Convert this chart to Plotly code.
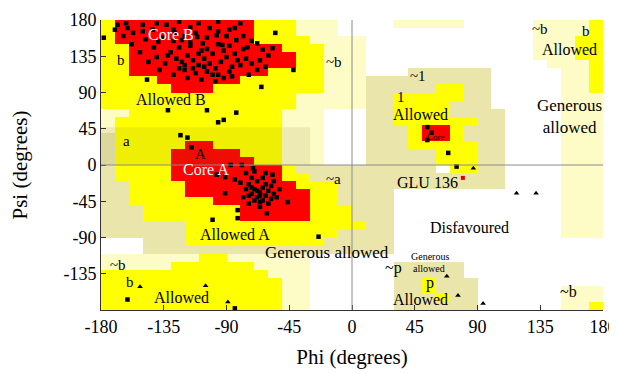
import plotly.graph_objects as go

# ---------------- data ----------------
# region map, 10-degree cells; rows psi 180->-180, cols phi -180->180
# codes: . disfavoured, P generous (pale), K generous (khaki), Y allowed, R core
region_rows = [
    "YRRRRRRRRR RYYYPPP... .PPPPP.... .PPPPY",
    "YRRRRRRRRR RYYYPPP... .......... .PPPPY",
    "YRRRRRRRRR RYYYYPPPP. .......... .PPPYY",
    "YYRRRRRRRR RRRYYYPPP. .......... .PPPYY",
    "YYRRRRRRRR RRRRYYPPP. .......... .PPPYY",
    "YYRRRRRRRR RRRRYYPPP. .......... ..PPPY",
    "YYRRRRRRRR RRYYYYPPP. ..KKKKKK.. ...PPY",
    "YYYYRRRRRR YYYYYYPPPK KKKKKKKK.. ...PPY",
    "YYYYYRRRYY YYYYYYPPPK KKKKYYKK.. ...PPY",
    "YYYYYYYYYY YYYYPPPPPK KYYYYYKK.. ...PPP",
    "YYYYYYYYYY YYYYPPPPPK KYYYYKKK.. ...PPP",
    "PPYYYYYYYY YYYPPP...K KYYYYKKKK. ...PPP",
    "PYYYYYYYYY YYYPPP...K KYYYYYYKK. ...PPP",
    "PYYYYYYYYY YYYPPP...K KKYRRYKKK. ...PPP",
    "KYYYYYYYYY YYYPPP...K KKYRRYKKK. ...PPP",
    "KYYYYYRRYY YYYPPP...K KKYYYYYKK. ...PPP",
    "KYYYYRRRRR YYYPPP...K KKKKYYYKK. ...PPP",
    "KYYYYRRRRR RYYPPP...K KKKKYYYKK. ...PPP",
    "KYYYYRRRRR RRRYKKKKKK KKKK.YYKK. ...PPP",
    "KYYYYRRRRR RRRYYKKKKK KKKKKKKKK. ...PPP",
    "KKYYYYRRRR RRRRYYYKKK KKKKKKKKK. ...PPP",
    "KKYYYYRRRR RRRRRYYKKK K......... ...PPP",
    "KKYYYYYYRR RRRRRYYKKK K......... ...PPP",
    "KKKYYYYYYY RRRRRYYYKK K......... ...PPP",
    "KKKYYYYYYY RRRRRYYYKK K......... ...PPP",
    "KKKKKKYYYY YYYYYYYYYK K......... ...PPP",
    "KKKKKKYYYY YYYYYYYKKK K......... ...PPP",
    "...KKKYYYY YYYYYYKKKK K......... ......",
    "...KKKKKKK KKKKKKKKKK K......... ......",
    "PPPPPPPYYP PPPPP..... .......... ......",
    "PPPPPYYYYY YPPPP..... .KKKKK.... ......",
    "YYYYYYYYYY YYPPP..... .KKKKK.... ......",
    "YYYYYYYYYY YYYPP..... .KKYKKK... ......",
    "YYYYYYYYYY YYYPP..... .KKYKKK... ...PPP",
    "YYYYYYYYYY YYYPP..... .KKKYKK... ...PPP",
    "YYYYYYYYYY YYYPP..... .KKKKKK... ...PPY",
]

# residues (non-glycine): phi, psi
res_phi = [
    -178, -168, -161, -157, -150, -143, -139, -133, -127, -122, -116, -111, -107, -102, -97, -93,
    -88, -83, -75, -68, -64, -57, -55, -42, -65, -147, -132, -104, -83, -96, -92, -123, -118, -115,
    -130, -126, -122, -118, -114, -110, -106, -102, -98, -94, -90, -86, -120, -112, -104, -96, -88,
    -80, -76, -72, -68, -124, -116, -108, -100, -92, -84, -78, -134, -140, -146, -138, -128, -118,
    -108, -98, -120, -114, -110, -104, -96, -88, -82, -74, -66, -62, -60, -152, -158, -164, -148,
    -142, -136, -128, -120, -112, -104, -96, -90, -84, -78, -72, -140, -124, -110, -96, -80, -150,
    -162, -170, -128, -116, -100, -92, -86, -106, -124, -132,
    -70, -66, -62, -68, -64, -72, -60, -58, -74, -70, -66, -62, -76, -56, -60, -68, -72, -64, -78,
    -74, -66, -58, -54, -80, -84, -76, -62, -70, -56, -52, -66, -72, -64, -68, -74,
    -87, -79, -71, -97, -91, -57, -91, -46, -82, -61, -100, -82, -24,
    -161, -84, 54, 54, 57, 69, 75,
]
res_psi = [
    158, 174, 170, 164, 174, 168, 153, 174, 164, 155, 171, 159, 151, 170, 161, 149,
    168, 155, 146, 151, 143, 145, 164, 118, 97, 106, 68, 68, 65, 53, 56, 37, 34, 22,
    140, 132, 128, 136, 130, 124, 132, 126, 120, 128, 134, 122, 118, 114, 116, 112, 116,
    124, 132, 126, 118, 146, 148, 142, 138, 142, 138, 144, 126, 134, 128, 118, 112, 108,
    106, 104, 124, 120, 138, 144, 150, 148, 130, 112, 130, 122, 136, 140, 150, 160, 156,
    146, 158, 154, 160, 164, 158, 166, 160, 170, 160, 154, 176, 178, 176, 178, 176, 166,
    176, 168, 168, 152, 112, 108, 110, 122, 120, 136,
    -30, -34, -38, -40, -28, -36, -32, -42, -24, -44, -46, -24, -30, -36, -48, -20, -16, -16, -40,
    -48, -52, -26, -40, -22, -18, -10, -10, -8, -20, -30, -38, -28, -44, -32, -38,
    0, 0, -4, -12, -15, -12, -35, -46, -56, -60, -68, -66, -89,
    -167, -178, 47, 31, 40, 15, -2,
]

# glycines: phi, psi
gly_phi = [-152, -105, -89, 87, 118, 132, 68, 76, 94]
gly_psi = [-151, -150, -170, -4, -35, -35, -138, -162, -172]

# highlighted residue GLU 136
glu_phi = [79.5]
glu_psi = [-16]

# region labels
lab_text = ["Core B", "b", "Allowed B", "a", "A", "Core A", "~b", "~a", "Allowed A",
            "Generous allowed", "~b", "b", "Allowed", "~1", "1", "Allowed", "Core",
            "GLU 136", "Disfavoured", "Generous", "allowed", "~p", "p", "Allowed",
            "~b", "b", "Allowed", "Generous<br>allowed", "~b"]
lab_phi = [-130, -166, -130, -162, -109, -105, -13, -13, -84,
           -18, -168, -159, -122, 47, 35, 49, 60,
           54, 84, 56, 55, 30, 56, 49,
           135, 168, 156, 156, 155]
lab_psi = [162, 130, 81, 30, 14, -6, 128, -17, -86,
           -109, -124, -145, -165, 110, 85, 63, 35,
           -22, -77, -113, -129, -128, -146, -167,
           169, 166, 143, 60, -157]
lab_color = ["white", "black", "black", "black", "black", "white", "black", "black", "black",
             "black", "black", "black", "black", "black", "black", "black", "black",
             "black", "black", "black", "black", "black", "black", "black",
             "black", "black", "black", "black", "black"]
lab_size = [16, 15, 16, 15, 15, 16, 15, 15, 16,
            17, 15, 15, 16, 15, 15, 16, 9,
            16, 16, 10, 10, 16, 16, 16,
            15, 15, 16, 17, 16]

x_ticks = [-180, -135, -90, -45, 0, 45, 90, 135, 180]
y_ticks = [180, 135, 90, 45, 0, -45, -90, -135]

# ---------------- figure ----------------
code = {".": 0, "P": 1, "K": 2, "Y": 3, "R": 4}
cols = ["#ffffff", "#fdfbc6", "#eae6ab", "#ffff00", "#ff0000"]
cs = []
for i, c in enumerate(cols):
    cs.append([i / 5, c])
    cs.append([(i + 1) / 5, c])

z = []
for r in region_rows:
    s = r.replace(" ", "")
    s = (s + "." * 36)[:36]
    z.append([code[ch] for ch in s])

phi_c = [-175 + 10 * i for i in range(36)]
psi_c = [175 - 10 * j for j in range(36)]

serif = "Liberation Serif"

fig = go.Figure()
fig.add_trace(go.Heatmap(x=phi_c, y=psi_c, z=z, colorscale=cs, zmin=-0.5, zmax=4.5,
                         showscale=False, hoverinfo="skip"))
# darker band across the alpha-region top
fig.add_trace(go.Scatter(x=[-180, -30, -30, -180, -180], y=[0, 0, 47, 47, 0], fill="toself",
                         fillcolor="rgba(110,110,30,0.11)", line=dict(width=0), mode="lines",
                         hoverinfo="skip", showlegend=False))

fig.add_shape(type="line", x0=0, x1=0, y0=-180, y1=180, line=dict(color="#8a8a8a", width=1))
fig.add_shape(type="line", x0=-180, x1=180, y0=0, y1=0, line=dict(color="#8a8a8a", width=1))

fig.add_trace(go.Scatter(x=res_phi, y=res_psi, mode="markers",
                         marker=dict(symbol="square", size=4.5, color="black"), showlegend=False))
fig.add_trace(go.Scatter(x=gly_phi, y=gly_psi, mode="markers",
                         marker=dict(symbol="triangle-up", size=5, color="black"), showlegend=False))
fig.add_trace(go.Scatter(x=glu_phi, y=glu_psi, mode="markers",
                         marker=dict(symbol="square", size=4, color="#e00000"), showlegend=False))

for t, x, y, c, s in zip(lab_text, lab_phi, lab_psi, lab_color, lab_size):
    fig.add_annotation(x=x, y=y, text=t, showarrow=False,
                       font=dict(family=serif, size=s, color=c))

fig.update_xaxes(range=[-180, 180], tickvals=x_ticks, ticktext=[str(v) for v in x_ticks],
                 ticks="inside", ticklen=5, tickcolor="#333", showline=True, linecolor="#333",
                 showgrid=False, zeroline=False, automargin=False,
                 tickfont=dict(family=serif, size=18, color="black"),
                 title=dict(text="Phi (degrees)", font=dict(family=serif, size=21, color="black"),
                            standoff=13))
fig.update_yaxes(range=[-180, 180], tickvals=y_ticks, ticktext=[str(v) for v in y_ticks],
                 ticks="inside", ticklen=5, tickcolor="#333", showline=True, linecolor="#333",
                 showgrid=False, zeroline=False, automargin=False,
                 tickfont=dict(family=serif, size=18, color="black"),
                 title=dict(text="Psi (degrees)", font=dict(family=serif, size=21, color="black"),
                            standoff=40))
# page body adds an 8px offset, so the figure is sized to fit the window
fig.update_layout(width=609, height=366, margin=dict(l=93, r=14, t=12, b=64),
                  plot_bgcolor="white", paper_bgcolor="white", showlegend=False)

fig.write_html("out.html")
